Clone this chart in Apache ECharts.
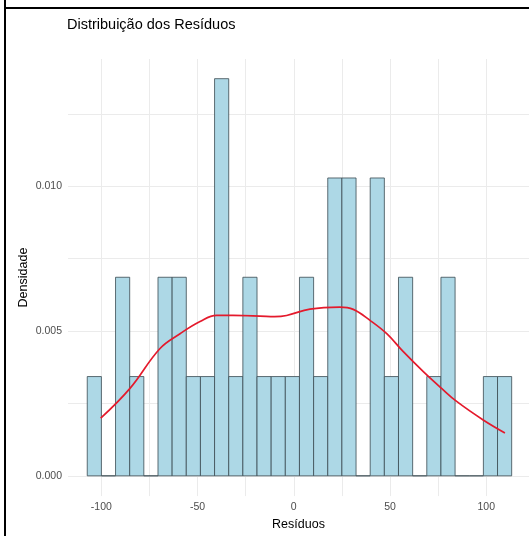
<!DOCTYPE html>
<html>
<head>
<meta charset="utf-8">
<script src="https://cdn.jsdelivr.net/npm/echarts@6/dist/echarts.min.js"></script>
<style>
html,body{margin:0;padding:0;background:#fff;}
#chart{width:529px;height:536px;}
</style>
</head>
<body>
<div id="chart"></div>
<script>
// Histogram bin edges (Resíduos)
const binEdges = [-107.3, -99.95, -92.6, -85.25, -77.9, -70.55, -63.2, -55.85, -48.5, -41.15,
  -33.8, -26.45, -19.1, -11.75, -4.4, 2.95, 10.3, 17.65, 25.0, 32.35,
  39.7, 47.05, 54.4, 61.75, 69.1, 76.45, 83.8, 91.15, 98.5, 105.85, 113.2];
// Density per bin
const binDensity = [0.00343, 0, 0.00686, 0.00343, 0, 0.00686, 0.00686, 0.00343, 0.00343, 0.01372,
  0.00343, 0.00686, 0.00343, 0.00343, 0.00343, 0.00686, 0.00343, 0.01029, 0.01029, 0,
  0.01029, 0.00343, 0.00686, 0, 0.00343, 0.00686, 0, 0, 0.00343, 0.00343];
// Kernel density curve points
const densX = [-100.3, -85.1, -69.5, -59.1, -48.7, -40.1, -31.6, -17.6, -10, -3.7, 8.4, 23.9, 30.9, 39.6, 48.3, 56.9, 67.3, 76.8, 84.6, 98.4, 109.7];
const densY = [0.00199, 0.00302, 0.00440, 0.00491, 0.00533, 0.00554, 0.00554, 0.00552, 0.00550, 0.00554, 0.00576, 0.00583, 0.00575, 0.00537, 0.00491, 0.00429, 0.00360, 0.00302, 0.00257, 0.00193, 0.00148];
const xTicks = [-100, -50, 0, 50, 100];
const xGrid = [-100, -75, -50, -25, 0, 25, 50, 75, 100];
const yTicks = [0.000, 0.005, 0.010];
const yGrid = [0.000, 0.0025, 0.005, 0.0075, 0.010, 0.0125];

const barData = binDensity.map((d, i) => [binEdges[i], binEdges[i + 1], d]);
const lineData = densX.map((x, i) => [x, densY[i]]);

const chart = echarts.init(document.getElementById('chart'), null, {renderer: 'canvas'});
const labelFont = 'Liberation Sans, Arial, sans-serif';
chart.setOption({
  animation: false,
  backgroundColor: '#fff',
  title: {
    text: 'Distribuição dos Resíduos',
    left: 62, top: 12,
    textStyle: {fontFamily: labelFont, fontSize: 14.5, fontWeight: 'normal', color: '#000'}
  },
  graphic: [
    {type: 'line', shape: {x1: 5, y1: 0, x2: 5, y2: 536}, style: {stroke: '#000', lineWidth: 2}},
    {type: 'line', shape: {x1: 4, y1: 8, x2: 529, y2: 8}, style: {stroke: '#000', lineWidth: 2}}
  ],
  grid: {left: 68, right: 0, top: 59, bottom: 36},
  xAxis: {
    type: 'value', min: -117.3, max: 122.2,
    name: 'Resíduos', nameLocation: 'middle', nameGap: 20,
    nameTextStyle: {fontFamily: labelFont, fontSize: 12.5, color: '#000'},
    axisLine: {show: false},
    axisTick: {show: false, customValues: xGrid},
    axisLabel: {
      fontFamily: labelFont, fontSize: 10.5, color: '#4d4d4d', margin: 6,
      customValues: xTicks,
      formatter: v => String(v)
    },
    splitLine: {show: true, lineStyle: {color: '#ebebeb', width: 1}}
  },
  yAxis: {
    type: 'value', min: -0.0007, max: 0.0144,
    name: 'Densidade', nameLocation: 'middle', nameGap: 38,
    nameMoveOverlap: false,
    nameTextStyle: {fontFamily: labelFont, fontSize: 12.5, color: '#000'},
    axisLine: {show: false},
    axisTick: {show: false, customValues: yGrid},
    axisLabel: {
      fontFamily: labelFont, fontSize: 10.5, color: '#4d4d4d', margin: 6,
      customValues: yTicks,
      formatter: v => v.toFixed(3)
    },
    splitLine: {show: true, lineStyle: {color: '#ebebeb', width: 1}}
  },
  series: [
    {
      type: 'custom',
      data: barData,
      encode: {x: [0, 1], y: 2},
      renderItem: function (params, api) {
        const p0 = api.coord([api.value(0), 0]);
        const p1 = api.coord([api.value(1), api.value(2)]);
        return {
          type: 'rect',
          shape: {x: p0[0], y: p1[1], width: p1[0] - p0[0], height: p0[1] - p1[1]},
          style: {fill: '#add8e6', stroke: '#3a4a50', lineWidth: 0.8}
        };
      },
      z: 2
    },
    {
      type: 'line',
      data: lineData,
      smooth: 0.4,
      showSymbol: false,
      lineStyle: {color: '#e41a2c', width: 1.7},
      z: 3
    }
  ]
});
</script>
</body>
</html>
